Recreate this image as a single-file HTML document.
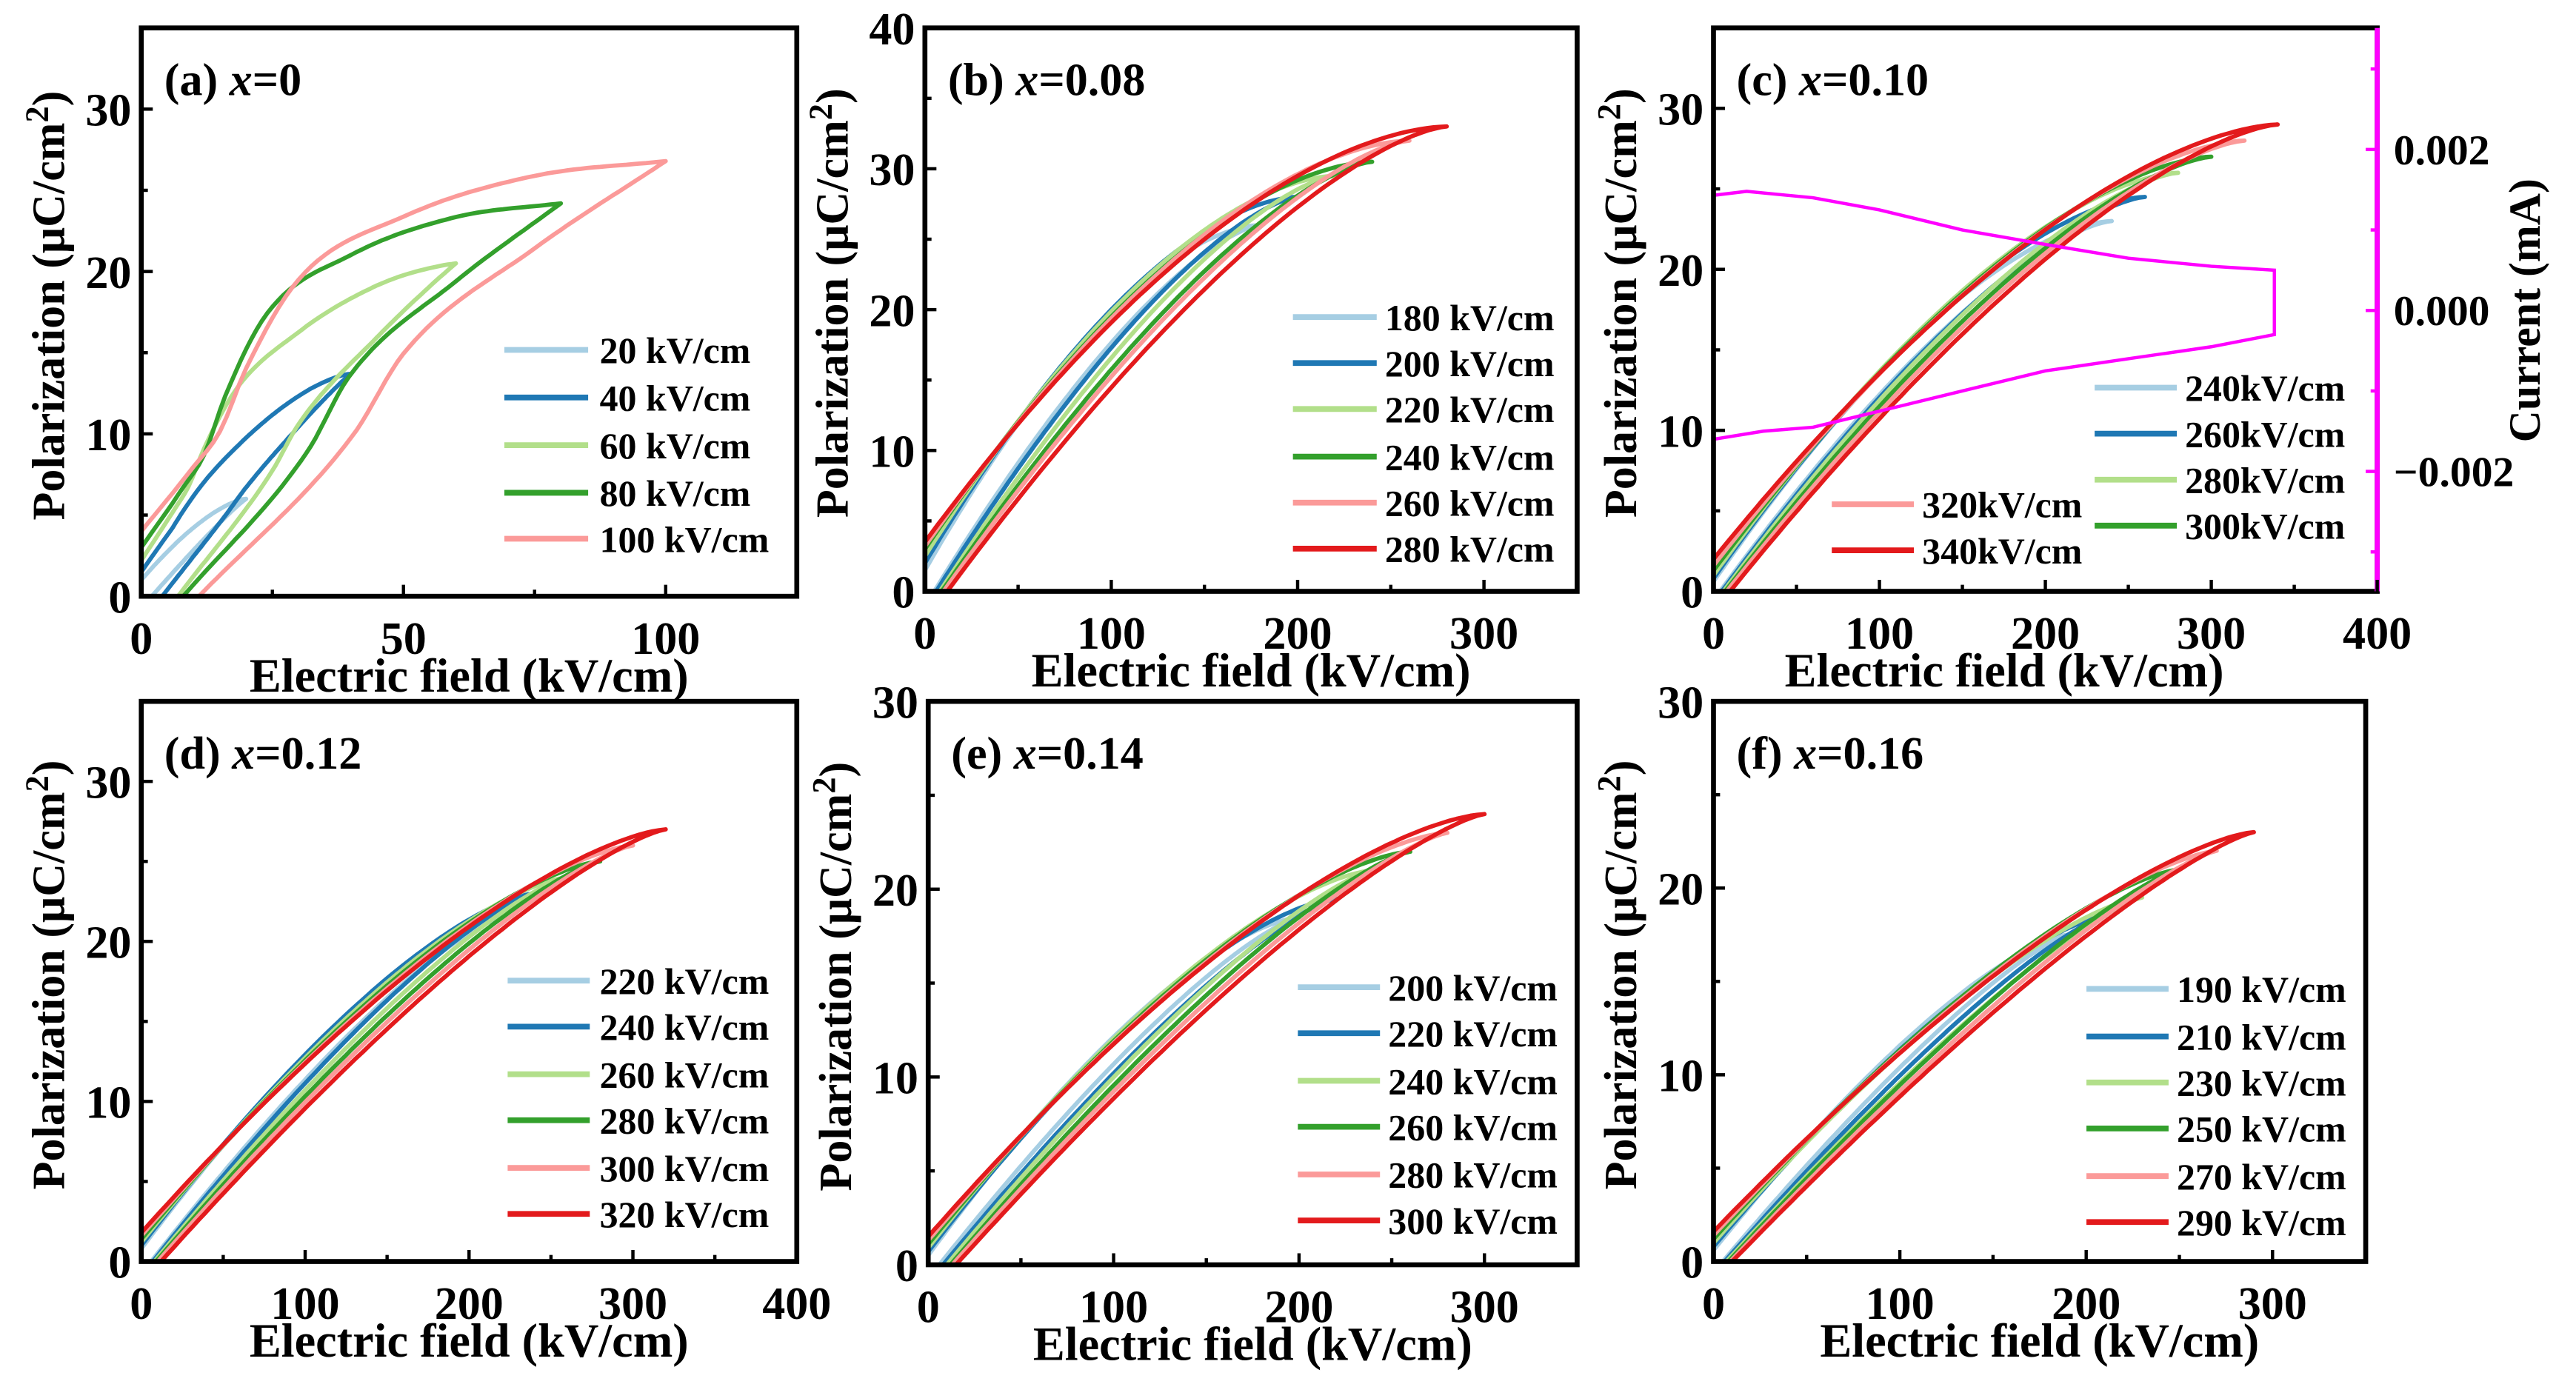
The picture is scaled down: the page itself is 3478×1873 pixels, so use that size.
<!DOCTYPE html>
<html><head><meta charset="utf-8"><style>
html,body{margin:0;padding:0;background:#fff;}
svg{display:block;}
text{font-family:"Liberation Serif",serif;font-weight:bold;fill:#000;}
</style></head><body>
<svg id="fig" width="3478" height="1873" viewBox="0 0 1568 844.4" preserveAspectRatio="none" xmlns="http://www.w3.org/2000/svg"></svg>
<script>
// ---- Data ----
const colorsList = ['#a6cee3','#1f78b4','#b2df8a','#33a02c','#fb9a99','#e31a1c'];
// panel a
const aFields = [20,40,60,80,100];
const aPmax = [6,13.7,20.5,24.2,26.8];
const aPr = [1,1.5,2.2,3,4];
const aEc = [2,4,7,8,11];
// panel b
const bFields = [180,200,220,240,260,280];
const bPmax = [26,28,29.5,30.5,32,33];
const bPr = [1.5,2,2.5,3,3.2,3.5];
const bEc = [5,6,8,9,10,12];
// panel c
const cFields = [240,260,280,300,320,340];
const cPmax = [23,24.5,26,27,28,29];
const cPr = [0.6,0.8,1,1.3,1.6,2];
const cEc = [4,5,6,7,8,10];
const cCurE = [0,20,60,100,150,200,250,300,338,338,300,250,200,150,100,60,30,0];
const cCurI = [0.00143,0.00148,0.0014,0.00125,0.001,0.00082,0.00065,0.00055,0.0005,-0.0003,-0.00045,-0.0006,-0.00075,-0.001,-0.00125,-0.00145,-0.0015,-0.0016];
// panel d
const dFields = [220,240,260,280,300,320];
const dPmax = [21.5,23,24,25,26,27];
const dPr = [0.8,1,1.2,1.4,1.6,1.8];
const dEc = [6,7,8,9,10,12];
// panel e
const eFields = [200,220,240,260,280,300];
const ePmax = [18.5,19.5,21,22,23,24];
const ePr = [0.5,0.7,0.9,1.1,1.3,1.5];
const eEc = [6,8,10,12,13,15];
// panel f
const fFields = [190,210,230,250,270,290];
const fPmax = [17.5,18.5,19.5,21,22,23];
const fPr = [0.6,0.8,1,1.2,1.4,1.6];
const fEc = [5,6,7,8,9,10];
// normalized branch profiles for panel a (S-shaped loops)
const aUpU = [0,0.1,0.15,0.2,0.3,0.5,0.75,1];
const aUpG = [0,0.175,0.27,0.44,0.68,0.85,0.96,1];
const aLoU = [0,0.33,0.44,0.72,1];
const aLoG = [0,0.37,0.56,0.80,1];
const aProfW = [0,0.15,0.6,1,1];

const NS='http://www.w3.org/2000/svg';
const svg=document.getElementById('fig');
function mk(tag,attrs,parent){const e=document.createElementNS(NS,tag);for(const k in attrs)e.setAttribute(k,attrs[k]);(parent||svg).appendChild(e);return e;}
function txt(s,x,y,size,anchor,parent){const t=mk('text',{x:x,y:y,'font-size':size,'text-anchor':anchor||'middle'},parent);t.textContent=s;return t;}
// monotone cubic interpolation (Fritsch-Carlson)
function monotone(X,Y){
 const n=X.length,d=[],m=new Array(n);
 for(let i=0;i<n-1;i++)d.push((Y[i+1]-Y[i])/(X[i+1]-X[i]));
 m[0]=d[0];m[n-1]=d[n-2];
 for(let i=1;i<n-1;i++){m[i]=(d[i-1]*d[i]<=0)?0:(d[i-1]+d[i])/2;}
 for(let i=0;i<n-1;i++){if(d[i]===0){m[i]=m[i+1]=0;continue;}const a=m[i]/d[i],b=m[i+1]/d[i],s=a*a+b*b;if(s>9){const t=3/Math.sqrt(s);m[i]=t*a*d[i];m[i+1]=t*b*d[i];}}
 return u=>{let i=0;while(i<n-2&&u>X[i+1])i++;const h=X[i+1]-X[i],t=(u-X[i])/h,t2=t*t,t3=t2*t;
  return (2*t3-3*t2+1)*Y[i]+(t3-2*t2+t)*h*m[i]+(-2*t3+3*t2)*Y[i+1]+(t3-t2)*h*m[i+1];};
}
const aUpFn=monotone(aUpU,aUpG), aLoFn=monotone(aLoU,aLoG);

const panels=[
 {id:'a',label:'(a) ',xval:'x=0',box:[86,17,485,363],xmax:125,ymax:35,xt:[0,50,100],xminor:25,yt:[0,10,20,30],yminor:5,
  f:aFields,pm:aPmax,pr:aPr,ec:aEc,cols:colorsList.slice(0,5),up:1.5,lo:1.1,w:aProfW,leg:[[307,358,365,[213,242,271,300,328],[0,1,2,3,4]]],unit:' kV/cm'},
 {id:'b',label:'(b) ',xval:'x=0.08',box:[563,17,960,360],xmax:350,ymax:40,xt:[0,100,200,300],xminor:50,yt:[0,10,20,30,40],yminor:5,
  f:bFields,pm:bPmax,pr:bPr,ec:bEc,cols:colorsList,up:1.7,lo:1.45,leg:[[787,838,843,[193,221,249,278,306,334],[0,1,2,3,4,5]]],unit:' kV/cm'},
 {id:'c',label:'(c) ',xval:'x=0.10',box:[1043,17,1447,360],xmax:400,ymax:35,xt:[0,100,200,300,400],xminor:50,yt:[0,10,20,30],yminor:5,
  f:cFields,pm:cPmax,pr:cPr,ec:cEc,cols:colorsList,up:1.6,lo:1.45,leg:[[1275,1325,1330,[236,264,292,320],[0,1,2,3]],[1115,1165,1170,[307,335],[4,5]]],unit:'kV/cm',current:true},
 {id:'d',label:'(d) ',xval:'x=0.12',box:[86,427,485,768],xmax:400,ymax:35,xt:[0,100,200,300,400],xminor:50,yt:[0,10,20,30],yminor:5,
  f:dFields,pm:dPmax,pr:dPr,ec:dEc,cols:colorsList,up:1.45,lo:1.3,leg:[[309,359,365,[597,625,654,682,711,739],[0,1,2,3,4,5]]],unit:' kV/cm'},
 {id:'e',label:'(e) ',xval:'x=0.14',box:[565,427,960,770],xmax:350,ymax:30,xt:[0,100,200,300],xminor:50,yt:[0,10,20,30],yminor:5,
  f:eFields,pm:ePmax,pr:ePr,ec:eEc,cols:colorsList,up:1.5,lo:1.3,leg:[[790,840,845,[601,629,658,686,715,743],[0,1,2,3,4,5]]],unit:' kV/cm'},
 {id:'f',label:'(f) ',xval:'x=0.16',box:[1043,427,1440,768],xmax:350,ymax:30,xt:[0,100,200,300],xminor:50,yt:[0,10,20,30],yminor:5,
  f:fFields,pm:fPmax,pr:fPr,ec:fEc,cols:colorsList,up:1.4,lo:1.25,leg:[[1270,1320,1325,[602,631,659,687,716,744],[0,1,2,3,4,5]]],unit:' kV/cm'}
];

panels.forEach(p=>{
 const [x0,y0,x1,y1]=p.box;
 const g=mk('g',{});
 
 
 const sx=v=>x0+(x1-x0)*v/p.xmax, sy=v=>y1-(y1-y0)*v/p.ymax;
 p.f.forEach((E,i)=>{
  const w=p.w?p.w[i]:0;
  const upF=u=>w*aUpFn(u)+(1-w)*(1-Math.pow(1-u,p.up));
  const loF=u=>w*aLoFn(u)+(1-w)*(1-Math.pow(1-u,p.lo));
  const pts=[];const N=80;
  for(let k=0;k<=N;k++){const u=k/N;const e=E*u;const P=p.pr[i]+(p.pm[i]-p.pr[i])*upF(u);pts.push(sx(e).toFixed(1)+','+sy(P).toFixed(1));}
  for(let k=N;k>=0;k--){const u=k/N;const e=p.ec[i]+(E-p.ec[i])*u;const P=p.pm[i]*loF(u);pts.push(sx(e).toFixed(1)+','+sy(P).toFixed(1));}
  const l=mk('polyline',{points:pts.join(' '),fill:'none',stroke:p.cols[i],'stroke-width':2.6,'stroke-linejoin':'round'},g);
  
  
 });
 if(p.current){
  const cy=v=>189-v/0.001*49;
  const pts=cCurE.map((e,k)=>sx(e).toFixed(1)+','+cy(cCurI[k]).toFixed(1));
  const l=mk('polyline',{points:pts.join(' '),fill:'none',stroke:'#ff00ff','stroke-width':2},g);
  
  
 }
 const fr=mk('rect',{x:x0,y:y0,width:x1-x0,height:y1-y0,fill:'none',stroke:'#000','stroke-width':3},g);
 
 
 if(p.current){
  const ra=mk('line',{x1:x1,y1:y0,x2:x1,y2:y1,stroke:'#ff00ff','stroke-width':3},g);
  
  
  [-0.003,-0.002,-0.001,0,0.001,0.002,0.003].forEach(v=>{const y=189-v/0.001*49;mk('line',{x1:x1,y1:y,x2:x1-(Math.round(Math.abs(v*1000))%2===0?7:4),y2:y,stroke:'#ff00ff','stroke-width':2},g);});
  [[0.002,'0.002'],[0,'0.000'],[-0.002,'\u22120.002']].forEach(([v,s])=>{const t=txt(s,x1+10,189-v/0.001*49+9,26,'start',g);});
  const rt=txt('Current (mA)',0,0,27,'middle',g);rt.setAttribute('transform','translate(1546,189) rotate(-90)');
  
 }
 for(let v=0;v<=p.xmax+0.01;v+=p.xminor){const maj=p.xt.includes(v);mk('line',{x1:sx(v),y1:y1,x2:sx(v),y2:y1-(maj?7:4),stroke:'#000','stroke-width':2},g);}
 for(let v=0;v<=p.ymax+0.01;v+=p.yminor){const maj=p.yt.includes(v);mk('line',{x1:x0,y1:sy(v),x2:x0+(maj?7:4),y2:sy(v),stroke:'#000','stroke-width':2},g);}
 p.xt.forEach(v=>{const t=txt(String(v),sx(v),y1+35,28,'middle',g);});
 p.yt.forEach(v=>{const t=txt(String(v),x0-6,sy(v)+10,28,'end',g);});
 const xt=txt('Electric field (kV/cm)',(x0+x1)/2-(p.current?25:0),y1+58,29,'middle',g);
 
 const yt=mk('text',{'font-size':28,'text-anchor':'middle',transform:'translate('+(x0-47)+','+((y0+y1)/2-4)+') rotate(-90)'},g);
 yt.innerHTML='Polarization (\u03bcC/cm<tspan dy="-10" font-size="20">2</tspan><tspan dy="10">)</tspan>';
 
 const pl=mk('text',{x:x0+14,y:y0+41,'font-size':28,'text-anchor':'start'},g);
 pl.innerHTML=p.label+'<tspan font-style="italic">x</tspan>'+p.xval.slice(1);
 
 p.leg.forEach(([lx0,lx1,tx,ys,idx])=>{
  idx.forEach((si,k)=>{
   const lg=mk('g',{},g);
   
   
   mk('line',{x1:lx0,y1:ys[k],x2:lx1,y2:ys[k],stroke:p.cols[si],'stroke-width':3.5},lg);
   txt(p.f[si]+p.unit,tx,ys[k]+8,22.5,'start',lg);
  });
 });
});
</script>
</body></html>
